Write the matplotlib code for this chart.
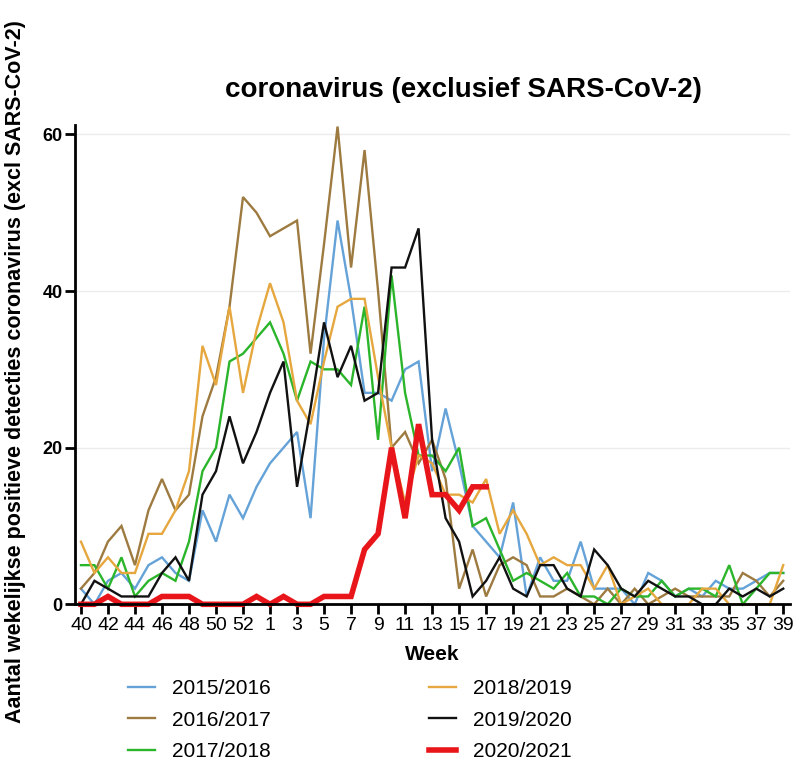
import matplotlib

matplotlib.use("Agg")
import matplotlib.pyplot as plt

plt.rcParams["font.family"] = ["Liberation Sans", "DejaVu Sans"]

# week axis: season runs week 40 .. 53, then 1 .. 39
weeks = list(range(40, 54)) + list(range(1, 40))

s2015 = [2, 0, 3, 4, 2, 5, 6, 4, 3, 12, 8, 14, 11, 15, 18, 20, 22,
         11, 34, 49, 39, 27, 27, 26, 30, 31, 17, 25, 18, 10, 8, 6, 13, 1, 6,
         3, 3, 8, 2, 2, 2, 0, 4, 3, 1, 2, 1, 3, 2, 2, 3, 4, 4]
s2016 = [2, 4, 8, 10, 5, 12, 16, 12, 14, 24, 29, 38, 52, 50, 47, 48, 49,
         32, 46, 61, 43, 58, 40, 20, 22, 18, 21, 16, 2, 7, 1, 5, 6, 5, 1,
         1, 2, 1, 0, 2, 0, 2, 0, 1, 2, 1, 1, 1, 1, 4, 3, 1, 3]
s2017 = [5, 5, 2, 6, 1, 3, 4, 3, 8, 17, 20, 31, 32, 34, 36, 32, 26,
         31, 30, 30, 28, 38, 21, 42, 27, 19, 19, 17, 20, 10, 11, 7, 3, 4, 3,
         2, 4, 1, 1, 0, 2, 1, 1, 3, 1, 2, 2, 1, 5, 0, 2, 4, 4]
s2018 = [8, 4, 6, 4, 4, 9, 9, 12, 17, 33, 28, 38, 27, 35, 41, 36, 26,
         23, 31, 38, 39, 39, 29, 20, 13, 19, 18, 14, 14, 13, 16, 9, 12, 9, 5,
         6, 5, 5, 2, 5, 0, 1, 2, 0, 0, 0, 2, 2, 0, 0, 0, 0, 5]
s2019 = [0, 3, 2, 1, 1, 1, 4, 6, 3, 14, 17, 24, 18, 22, 27, 31, 15,
         25, 36, 29, 33, 26, 27, 43, 43, 48, 21, 11, 8, 1, 3, 6, 2, 1, 5,
         5, 2, 1, 7, 5, 2, 1, 3, 2, 1, 1, 0, 0, 2, 1, 2, 1, 2]
s2020 = [0, 0, 1, 0, 0, 0, 1, 1, 1, 0, 0, 0, 0, 1, 0, 1, 0,
         0, 1, 1, 1, 7, 9, 20, 11, 23, 14, 14, 12, 15, 15]

seasons = ["2015/2016", "2016/2017", "2017/2018", "2018/2019", "2019/2020", "2020/2021"]
series = [s2015, s2016, s2017, s2018, s2019, s2020]
colors = ["#64a2d8", "#9d7a40", "#2bb52b", "#e5a73e", "#111111", "#e8161b"]
widths = [1.7, 1.7, 1.7, 1.7, 1.7, 4.0]

fig = plt.figure(figsize=(7.96, 7.63), dpi=100)
ax = fig.add_axes([75 / 796, 1 - 604.3 / 763, 715 / 796, 479.3 / 763])

handles = []
for name, vals, c, lw in zip(seasons, series, colors, widths):
    (h,) = ax.plot(range(len(vals)), vals, color=c, lw=lw, label=name,
                   clip_on=False, solid_joinstyle="miter")
    handles.append(h)

ax.set_xlim(-0.44, 52.5)
ax.set_ylim(0, 61.2)
ax.set_xticks(range(0, 53, 2))
ax.set_xticklabels([str(w) for w in weeks[::2]], fontsize=14)
ax.set_yticks([0, 20, 40, 60])
ax.set_yticklabels(["0", "20", "40", "60"], fontsize=13, fontweight="bold")
ax.tick_params(axis="both", direction="out", length=7, width=2, color="black", pad=2)
ax.yaxis.grid(True, color="#ececec", lw=1)
ax.set_axisbelow(True)
for side in ("top", "right"):
    ax.spines[side].set_visible(False)
for side in ("left", "bottom"):
    ax.spines[side].set_linewidth(2)

fig.text(463 / 796, 1 - 90 / 763, "coronavirus (exclusief SARS-CoV-2)",
         ha="center", va="center", fontsize=20, fontweight="bold")
fig.text(16 / 796, 1 - 372 / 763,
         "Aantal wekelijkse positieve detecties coronavirus (excl SARS-CoV-2)",
         rotation=90, ha="center", va="center", fontsize=15.5, fontweight="bold")
fig.text(432 / 796, 1 - 655 / 763, "Week", ha="center", va="center",
         fontsize=15, fontweight="bold")

fig.legend(handles, seasons, ncol=2, loc="upper left",
           bbox_to_anchor=(128 / 796, 1 - 679 / 763), frameon=False,
           fontsize=15, borderpad=0, borderaxespad=0, handlelength=1.3,
           handletextpad=0.8, columnspacing=7.6, labelspacing=0.6)

fig.savefig("out.png", dpi=100)
